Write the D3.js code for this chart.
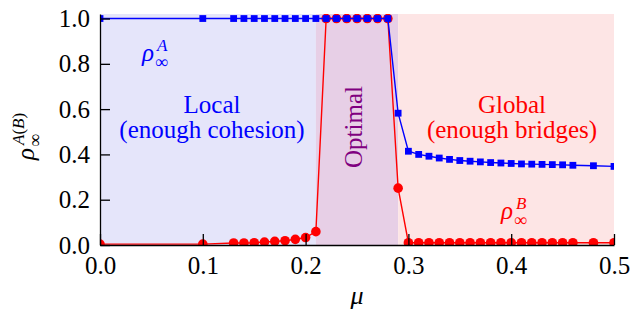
<!DOCTYPE html>
<html>
<head>
<meta charset="utf-8">
<script src="https://cdn.jsdelivr.net/npm/d3@7"></script>
</head>
<body style="margin:0">
<svg id="chart" width="631" height="312"></svg>
<script>
// mu values where each series was sampled
const muA = [0, 0.1, 0.13, 0.14, 0.15, 0.16, 0.17, 0.18, 0.19, 0.2, 0.21, 0.22, 0.23, 0.24, 0.25, 0.26, 0.27, 0.28,
  0.29, 0.3, 0.31, 0.32, 0.33, 0.34, 0.35, 0.36, 0.37, 0.38, 0.39, 0.4, 0.41, 0.42, 0.43, 0.44, 0.45, 0.46, 0.48, 0.5];
const rhoA = [1, 1, 1, 1, 1, 1, 1, 1, 1, 1, 1, 1, 1, 1, 1, 1, 1, 1,
  0.582, 0.414, 0.4, 0.392, 0.384, 0.378, 0.373, 0.37, 0.367, 0.364, 0.362, 0.36, 0.358, 0.357, 0.356, 0.355, 0.354, 0.352, 0.35, 0.347];
const muB = muA;
const rhoB = [0.004, 0.004, 0.009, 0.009, 0.01, 0.013, 0.016, 0.019, 0.025, 0.033, 0.059, 1, 1, 1, 1, 1, 1, 1,
  0.251, 0.01, 0.01, 0.01, 0.01, 0.01, 0.01, 0.01, 0.01, 0.01, 0.01, 0.01, 0.01, 0.01, 0.01, 0.01, 0.01, 0.01, 0.01, 0.01];
const xTicks = [0, 0.1, 0.2, 0.3, 0.4, 0.5];
const yTicks = [0, 0.2, 0.4, 0.6, 0.8, 1.0];
// shaded regimes (mu ranges)
const regimes = [
  { from: 0, to: 0.21, color: "#e5e5fa" },
  { from: 0.21, to: 0.29, color: "#e7cfe6" },
  { from: 0.29, to: 0.5, color: "#fde5e5" }
];

const serif = "Liberation Serif";
const svg = d3.select("#chart");
const x = d3.scaleLinear().domain([0, 0.5]).range([100, 614]);
const y = d3.scaleLinear().domain([0, 1.02]).range([245, 14]);

svg.append("defs").append("clipPath").attr("id", "plot")
  .append("rect")
  .attr("x", x(0)).attr("y", y(1.02))
  .attr("width", x(0.5) - x(0)).attr("height", y(0) - y(1.02));

//background regimes
svg.selectAll(".regime")
  .data(regimes)
  .enter().append("rect")
  .attr("x", d => x(d.from))
  .attr("y", y(1.02))
  .attr("width", d => x(d.to) - x(d.from))
  .attr("height", y(0) - y(1.02))
  .attr("fill", d => d.color);

const g = svg.append("g").attr("clip-path", "url(#plot)");
const line = d3.line().x(d => x(d[0])).y(d => y(d[1]));

//rho B (red circles)
const ptsB = muB.map((m, i) => [m, rhoB[i]]);
g.append("path").datum(ptsB)
  .attr("d", line).attr("fill", "none")
  .attr("stroke", "#ff0000").attr("stroke-width", 1.4);
g.selectAll(".dotB")
  .data(ptsB)
  .enter().append("circle")
  .attr("cx", d => x(d[0])).attr("cy", d => y(d[1]))
  .attr("r", 4.8).attr("fill", "#ff0000");

//rho A (blue squares)
const ptsA = muA.map((m, i) => [m, rhoA[i]]);
g.append("path").datum(ptsA)
  .attr("d", line).attr("fill", "none")
  .attr("stroke", "#0000ff").attr("stroke-width", 1.4);
g.selectAll(".sqA")
  .data(ptsA)
  .enter().append("rect")
  .attr("x", d => x(d[0]) - 3.4).attr("y", d => y(d[1]) - 3.4)
  .attr("width", 6.8).attr("height", 6.8).attr("fill", "#0000ff");

//axes
const fmt = d3.format(".1f");
const xAxis = svg.append("g")
  .attr("transform", "translate(0," + y(0) + ")")
  .call(d3.axisBottom(x).tickValues(xTicks).tickFormat(fmt)
    .tickSizeInner(-11).tickSizeOuter(0).tickPadding(11));
const yAxis = svg.append("g")
  .attr("transform", "translate(" + x(0) + ",0)")
  .call(d3.axisLeft(y).tickValues(yTicks).tickFormat(fmt)
    .tickSizeInner(-10).tickSizeOuter(0).tickPadding(10));
[xAxis, yAxis].forEach(a => {
  a.attr("font-family", null).attr("font-size", null);
  a.selectAll("path, line").attr("stroke", "#000").attr("stroke-width", 1.3);
  a.selectAll("text").attr("fill", "#000")
    .attr("font-family", serif).attr("font-size", 25);
});

//x label
svg.append("text")
  .attr("x", x(0.25)).attr("y", 304)
  .attr("text-anchor", "middle").attr("font-size", 26).attr("font-style", "italic")
  .attr("font-family", serif)
  .text("μ");

//rho label helper: rho with subscript infinity and a superscript
function rhoLabel(parent, sup, color) {
  parent.append("text").attr("x", 0).attr("y", 0).attr("font-family", serif)
    .attr("font-size", 25).attr("font-style", "italic").attr("fill", color).text("ρ");
  parent.append("text").attr("x", 13).attr("y", 7).attr("font-family", serif)
    .attr("font-size", 18).attr("fill", color).text("∞");
  const s = parent.append("text").attr("x", 15).attr("y", -10).attr("font-family", serif)
    .attr("font-size", 17).attr("fill", color);
  sup.forEach(p => s.append("tspan").attr("font-style", p.it ? "italic" : "normal").text(p.t));
}

rhoLabel(svg.append("g").attr("transform", "translate(142,61)"), [{ t: "A", it: true }], "#0000ff");
rhoLabel(svg.append("g").attr("transform", "translate(501,219)"), [{ t: "B", it: true }], "#ff0000");
rhoLabel(svg.append("g").attr("transform", "translate(34,160) rotate(-90)"),
  [{ t: "A", it: true }, { t: "(", it: false }, { t: "B", it: true }, { t: ")", it: false }], "#000");

//regime labels
const local = svg.append("text").attr("text-anchor", "middle").attr("font-size", 25)
  .attr("font-family", serif).attr("fill", "#0000ff");
local.append("tspan").attr("x", 212).attr("y", 113).text("Local");
local.append("tspan").attr("x", 212).attr("y", 138).text("(enough cohesion)");

const global = svg.append("text").attr("text-anchor", "middle").attr("font-size", 25)
  .attr("font-family", serif).attr("fill", "#ff0000");
global.append("tspan").attr("x", 512).attr("y", 113).text("Global");
global.append("tspan").attr("x", 512).attr("y", 138).text("(enough bridges)");

svg.append("text")
  .attr("transform", "translate(362,127) rotate(-90)")
  .attr("text-anchor", "middle").attr("font-size", 25).attr("font-family", serif)
  .attr("fill", "#800080")
  .text("Optimal");
</script>
</body>
</html>
